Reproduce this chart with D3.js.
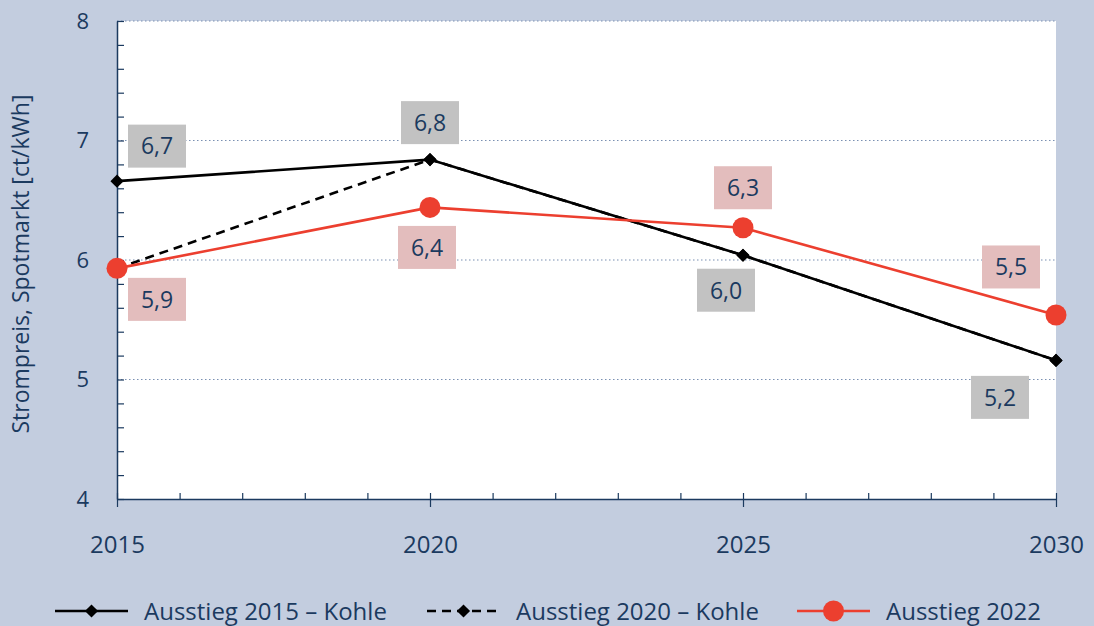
<!DOCTYPE html>
<html>
  <head>
    <meta charset="utf-8">
    <script src="https://cdn.jsdelivr.net/npm/d3@7/dist/d3.min.js"></script>
    <style>
      body { margin: 0; background: #c3cddf; }
      svg { display: block; font-family: 'Open Sans', sans-serif; }
    </style>
  </head>
  <body>
    <script>
      // data
      const years = [2015, 2020, 2025, 2030]
      const seriesNames = ['Ausstieg 2015 – Kohle', 'Ausstieg 2020 – Kohle', 'Ausstieg 2022']
      const kohle2015 = [6.66, 6.84, 6.04, 5.16]
      const kohle2020 = [5.93, 6.84, 6.04, 5.16]
      const ausstieg2022 = [5.93, 6.44, 6.27, 5.54]
      const yTicks = [4, 5, 6, 7, 8]

      // where each value box sits relative to its point
      const labels1 = [[40, -35], [0, -37], [-17, 35], [-56, 37]]
      const labels3 = [[40, 31], [-3, 40], [0, -40], [-45, -48]]

      const W = 1094, H = 626
      const navy = '#1b3a5f'
      const red = '#ec3f2f'

      const svg = d3.select('body').append('svg').attr('width', W).attr('height', H)

      const x = d3.scaleLinear().domain([2015, 2030]).range([117, 1056])
      const y = d3.scaleLinear().domain([4, 8]).range([499, 21])

      svg.append('rect')
        .attr('x', x(2015)).attr('y', y(8))
        .attr('width', x(2030) - x(2015)).attr('height', y(4) - y(8))
        .attr('fill', 'white')

      // dotted gridlines
      svg.append('g').selectAll('line').data(yTicks.slice(1)).join('line')
        .attr('x1', x(2015)).attr('x2', x(2030))
        .attr('y1', d => y(d)).attr('y2', d => y(d))
        .attr('stroke', '#7a90b2').attr('stroke-width', 1.2)
        .attr('stroke-dasharray', '1.5,2.5')

      // y axis
      const minorY = d3.range(4, 8.001, 0.2).map(v => +v.toFixed(1))
      const yAxis = svg.append('g')
        .attr('transform', `translate(${x(2015)},0)`)
        .call(d3.axisLeft(y).tickValues(minorY).tickSizeInner(-7).tickSizeOuter(0)
          .tickPadding(28).tickFormat(d => Number.isInteger(d) ? d : ''))
      yAxis.select('.domain').attr('stroke', navy).attr('stroke-width', 1.5)
      yAxis.selectAll('.tick line').attr('stroke', navy).attr('stroke-width', 1.2)
      yAxis.selectAll('text').attr('fill', navy).attr('font-size', 22)
        .attr('font-family', 'Open Sans, sans-serif')

      // x axis
      const xAxis = svg.append('g')
        .attr('transform', `translate(0,${y(4)})`)
        .call(d3.axisBottom(x).tickValues(d3.range(2015, 2031)).tickSizeInner(-6).tickSizeOuter(0)
          .tickPadding(37).tickFormat(d => years.includes(d) ? d : ''))
      xAxis.select('.domain').attr('stroke', navy).attr('stroke-width', 1.5)
      xAxis.selectAll('.tick line').attr('stroke', navy).attr('stroke-width', 1.2)
      xAxis.selectAll('.tick').filter(d => years.includes(d)).select('line')
        .attr('y1', -6).attr('y2', 8)
      xAxis.selectAll('text').attr('fill', navy).attr('font-size', 24)
        .attr('font-family', 'Open Sans, sans-serif')

      svg.append('text')
        .attr('transform', 'translate(29,264) rotate(-90)')
        .attr('text-anchor', 'middle')
        .attr('fill', navy).attr('font-size', 23)
        .text('Strompreis, Spotmarkt [ct/kWh]')

      const line = d3.line().x((d, i) => x(years[i])).y(d => y(d))
      const diamond = d3.symbol().type(d3.symbolDiamond2).size(110)
      const fmt = v => d3.format('.1f')(v).replace('.', ',')

      function drawSeries(vals, opts) {
        const g = svg.append('g')
        g.append('path').attr('d', line(vals))
          .attr('fill', 'none').attr('stroke', opts.color).attr('stroke-width', 2.6)
          .attr('stroke-dasharray', opts.dash || null)
        if (opts.circle) {
          g.selectAll('circle').data(vals).join('circle')
            .attr('cx', (d, i) => x(years[i])).attr('cy', d => y(d))
            .attr('r', 10.5).attr('fill', opts.color)
        } else {
          g.selectAll('path.m').data(vals).join('path').attr('class', 'm')
            .attr('d', diamond)
            .attr('transform', (d, i) => `translate(${x(years[i])},${y(d)})`)
            .attr('fill', opts.color)
        }
      }

      function drawLabels(vals, offsets, fill) {
        const g = svg.append('g')
        const item = g.selectAll('g').data(vals).join('g')
          .attr('transform', (d, i) => `translate(${x(years[i]) + offsets[i][0]},${y(d) + offsets[i][1]})`)
        item.append('rect').attr('x', -29).attr('y', -21.5).attr('width', 58).attr('height', 43)
          .attr('fill', fill)
        item.append('text').attr('text-anchor', 'middle').attr('dy', '0.36em')
          .attr('fill', navy).attr('font-size', 23)
          .text(d => fmt(d))
      }

      drawSeries(kohle2015, {color: 'black'})
      drawSeries(kohle2020, {color: 'black', dash: '9,6'})
      drawSeries(ausstieg2022, {color: red, circle: true})
      drawLabels(kohle2015, labels1, '#c2c2c2')
      drawLabels(ausstieg2022, labels3, '#e3bdbd')

      // legend
      const legend = [
        {name: seriesNames[0], x0: 55, color: 'black'},
        {name: seriesNames[1], x0: 427, color: 'black', dash: '9,6'},
        {name: seriesNames[2], x0: 797, color: red, circle: true}
      ]
      const ly = 611
      legend.forEach(l => {
        const g = svg.append('g').attr('transform', `translate(${l.x0},${ly})`)
        g.append('line').attr('x1', 0).attr('x2', 73)
          .attr('stroke', l.color).attr('stroke-width', 2.6)
          .attr('stroke-dasharray', l.dash || null)
        if (l.circle) g.append('circle').attr('cx', 36.5).attr('r', 10.5).attr('fill', l.color)
        else g.append('path').attr('d', diamond).attr('transform', 'translate(36.5,0)').attr('fill', l.color)
        g.append('text').attr('x', 89).attr('dy', '0.36em')
          .attr('fill', navy).attr('font-size', 24).text(l.name)
      })
    </script>
  </body>
</html>
